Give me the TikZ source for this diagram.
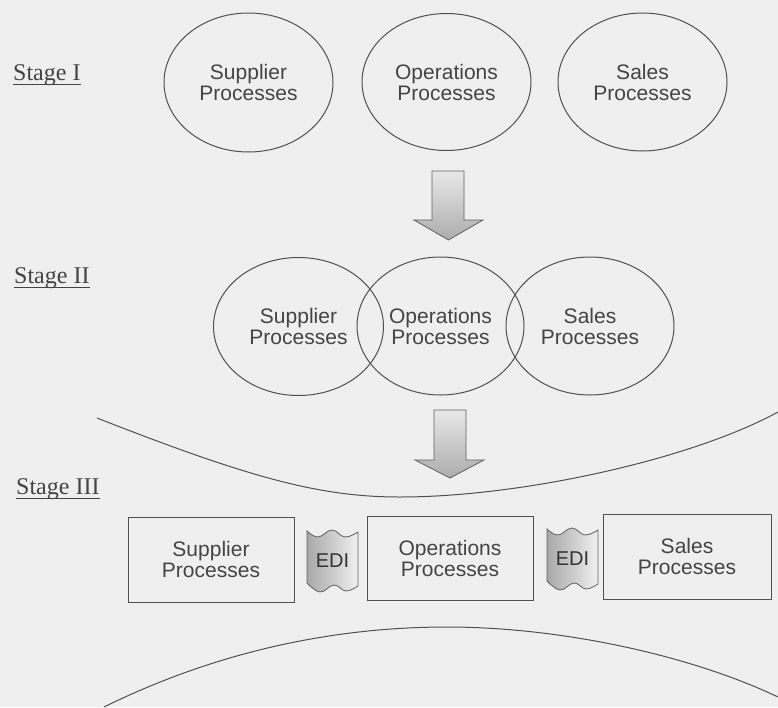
\documentclass[tikz,border=0pt]{standalone}
\usepackage{fontspec}
\setmainfont{Liberation Sans}
\newfontfamily\stagefont{Liberation Serif}
\usetikzlibrary{shapes.geometric}
\definecolor{bgcol}{HTML}{EFEFEF}
\definecolor{linecol}{HTML}{505050}
\definecolor{txtcol}{HTML}{444444}
\tikzset{
  proc/.style={ellipse, draw=linecol, line width=1pt, inner sep=0pt,
    align=center, text=txtcol, font=\fontsize{21}{21}\selectfont},
  procbox/.style={rectangle, draw=linecol, line width=1pt, inner sep=0pt,
    align=center, text=txtcol, font=\fontsize{21}{21}\selectfont},
  stagelbl/.style={anchor=base west, inner sep=0pt, text=txtcol,
    font=\stagefont\fontsize{24}{24}\selectfont},
  bigarrow/.style={draw=gray!75!black, line width=0.8pt, shading=axis,
    top color=gray!18, bottom color=gray!65},
  edifill/.style={draw=gray!75!black, line width=0.8pt, shading=axis,
    left color=gray!68, right color=gray!12},
  edilbl/.style={inner sep=0pt, text=black!80, font=\fontsize{20}{20}\selectfont},
  curve/.style={draw=linecol, line width=1pt}
}
\begin{document}
\begin{tikzpicture}[x=1pt,y=-1pt]
\fill[bgcol] (0,0) rectangle (778,707);
\useasboundingbox (0,0) rectangle (778,707);

% Stage labels
\node[stagelbl] (s1) at (13,80) {Stage I};
\node[stagelbl] (s2) at (14,283) {Stage II};
\node[stagelbl] (s3) at (16,494) {Stage III};
\foreach \s in {s1,s2,s3}{
  \draw[txtcol, line width=0.9pt] ([yshift=-4.5pt]\s.base west) -- ([yshift=-4.5pt]\s.base east);
}

% Stage I
\node[proc, minimum width=169pt, minimum height=139pt] (sup1) at (248.5,82.5) {Supplier\\Processes};
\node[proc, minimum width=169pt, minimum height=137pt] (ops1) at (446.5,82) {Operations\\Processes};
\node[proc, minimum width=169pt, minimum height=138pt] (sal1) at (642.5,82) {Sales\\Processes};

% Arrow 1
\path[bigarrow] (432,171) -- (464,171) -- (464,220) -- (483,220)
  -- (448.5,240) -- (414,220) -- (432,220) -- cycle;

% Stage II
\node[proc, minimum width=170pt, minimum height=138pt] (sup2) at (298.5,326.5) {Supplier\\Processes};
\node[proc, minimum width=167pt, minimum height=138pt] (ops2) at (440.5,326) {Operations\\Processes};
\node[proc, minimum width=168pt, minimum height=138pt] (sal2) at (590,326) {Sales\\Processes};

% Arrow 2
\path[bigarrow] (434,410) -- (466,410) -- (466,460) -- (484,460)
  -- (450,478) -- (415,460) -- (434,460) -- cycle;

% Funnel curves
\draw[curve] (97,418) .. controls (250,478) and (320,497) .. (400,497)
  .. controls (520,497) and (690,460) .. (778,412);
\draw[curve] (104,707) .. controls (230,645) and (350,627) .. (447,627)
  .. controls (560,627) and (690,655) .. (778,697);

% Stage III boxes
\node[procbox, minimum width=166pt, minimum height=85pt] (sup3) at (211,559.5) {Supplier\\Processes};
\node[procbox, minimum width=166pt, minimum height=84pt] (ops3) at (450,558) {Operations\\Processes};
\node[procbox, minimum width=168pt, minimum height=85pt] (sal3) at (687,556.5) {Sales\\Processes};

% EDI shapes
\foreach \dx/\dy/\nm in {0/0/edi1, 240/-2/edi2}{
  \begin{scope}[shift={(\dx,\dy)}]
    \path[edifill] plot[smooth, tension=0.7] coordinates {(307,531) (318,537) (332,530) (345,537) (358,532)}
      -- plot[smooth, tension=0.7] coordinates {(358,586) (346,591) (334,585) (320,592) (307,583)} -- cycle;
    \node[edilbl] (\nm) at (332.5,561) {EDI};
  \end{scope}
}
\end{tikzpicture}
\end{document}
